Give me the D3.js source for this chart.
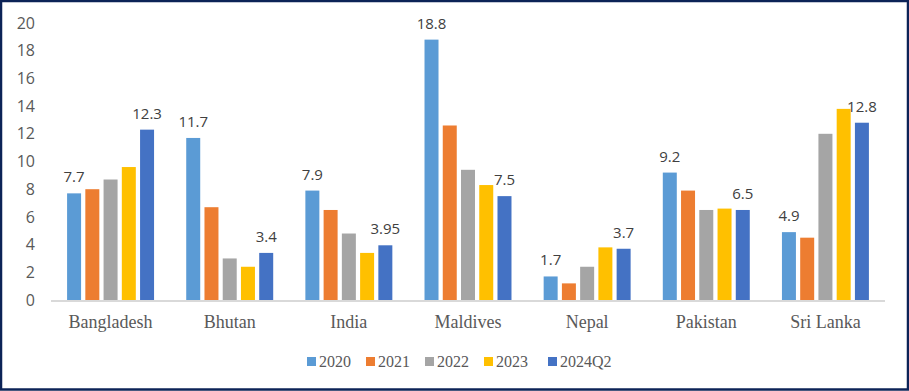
<!DOCTYPE html>
<html>
<head>
<meta charset="utf-8">
<script src="https://cdn.jsdelivr.net/npm/d3@7"></script>
<style>
  body { margin: 0; background: #fff; }
  svg { display: block; }
</style>
</head>
<body>
<div id="chart"></div>
<script>
var countries = ['Bangladesh', 'Bhutan', 'India', 'Maldives', 'Nepal', 'Pakistan', 'Sri Lanka'];
var series = ['2020', '2021', '2022', '2023', '2024Q2'];
var colors = ['#5b9bd5', '#ed7d31', '#a5a5a5', '#ffc000', '#4472c4'];

var v2020 = [7.7, 11.7, 7.9, 18.8, 1.7, 9.2, 4.9];
var v2021 = [8.0, 6.7, 6.5, 12.6, 1.2, 7.9, 4.5];
var v2022 = [8.7, 3.0, 4.8, 9.4, 2.4, 6.5, 12.0];
var v2023 = [9.6, 2.4, 3.4, 8.3, 3.8, 6.6, 13.8];
var v2024 = [12.3, 3.4, 3.95, 7.5, 3.7, 6.5, 12.8];
var values = [v2020, v2021, v2022, v2023, v2024];
var labelled = ['2020', '2024Q2'];
var yTicks = [0, 2, 4, 6, 8, 10, 12, 14, 16, 18, 20];

var w = 909, h = 391;
var sans = '"Open Sans", "Noto Sans", sans-serif';
var serif = '"Liberation Serif", "Times New Roman", serif';

var svg = d3.select('#chart').append('svg')
    .attr('width', w)
    .attr('height', h);

// frame
svg.append('rect')
    .attr('x', 1).attr('y', 1)
    .attr('width', w - 2).attr('height', h - 2.5)
    .attr('fill', '#fff')
    .attr('stroke', '#0c2357')
    .attr('stroke-width', 2.5);

var x0 = d3.scaleBand().domain(countries).range([51, 885]).paddingInner(0.27).paddingOuter(0.135);
var x1 = d3.scaleBand().domain(series).range([0, x0.bandwidth()]).paddingInner(0.233);
var y = d3.scaleLinear().domain([0, 20]).range([300, 23]);

// y axis
var yAxis = svg.append('g')
    .attr('transform', 'translate(51,0)')
    .call(d3.axisLeft(y).tickValues(yTicks).tickSize(0).tickPadding(16));
yAxis.select('.domain').remove();
yAxis.selectAll('text')
    .attr('fill', '#595959')
    .style('font-family', sans)
    .style('font-size', '16px');

// bars
var groups = svg.selectAll('g.grp')
    .data(countries)
    .enter()
    .append('g')
    .attr('class', 'grp')
    .attr('transform', function(d){ return 'translate(' + x0(d) + ',0)'; });

groups.selectAll('rect')
    .data(function(d, i){
        return series.map(function(s, j){ return {s: s, v: values[j][i], c: colors[j]}; });
    })
    .enter()
    .append('rect')
    .attr('x', function(d){ return x1(d.s); })
    .attr('y', function(d){ return y(d.v); })
    .attr('width', x1.bandwidth())
    .attr('height', function(d){ return y(0) - y(d.v); })
    .attr('fill', function(d){ return d.c; });

// data labels (first and last series only)
groups.selectAll('text.lbl')
    .data(function(d, i){
        return series.map(function(s, j){ return {s: s, v: values[j][i]}; })
            .filter(function(d){ return labelled.indexOf(d.s) >= 0; });
    })
    .enter()
    .append('text')
    .attr('class', 'lbl')
    .attr('x', function(d){ return x1(d.s) + x1.bandwidth() / 2; })
    .attr('y', function(d){ return y(d.v) - 11; })
    .attr('text-anchor', 'middle')
    .attr('fill', '#404040')
    .style('font-family', sans)
    .style('font-size', '15px')
    .text(function(d){ return String(d.v); });

// baseline
svg.append('line')
    .attr('x1', 51).attr('x2', 885)
    .attr('y1', y(0) + 1).attr('y2', y(0) + 1)
    .attr('stroke', '#d9d9d9')
    .attr('stroke-width', 2);

// category labels
svg.selectAll('text.cat')
    .data(countries)
    .enter()
    .append('text')
    .attr('class', 'cat')
    .attr('x', function(d){ return x0(d) + x0.bandwidth() / 2; })
    .attr('y', 328)
    .attr('text-anchor', 'middle')
    .attr('fill', '#595959')
    .style('font-family', serif)
    .style('font-size', '18px')
    .text(function(d){ return d; });

// legend
var legendX = [307, 366, 425, 484, 548];
var legend = svg.selectAll('g.leg')
    .data(series)
    .enter()
    .append('g')
    .attr('class', 'leg')
    .attr('transform', function(d, i){ return 'translate(' + legendX[i] + ',357)'; });
legend.append('rect')
    .attr('width', 9).attr('height', 9)
    .attr('fill', function(d, i){ return colors[i]; });
legend.append('text')
    .attr('x', 12).attr('y', 10)
    .attr('fill', '#595959')
    .style('font-family', serif)
    .style('font-size', '16px')
    .text(function(d){ return d; });
</script>
</body>
</html>
